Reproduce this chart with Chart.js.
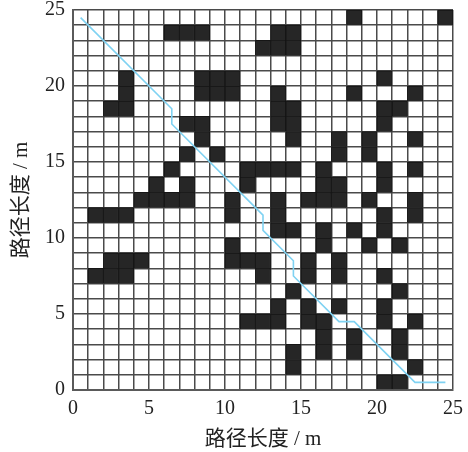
<!DOCTYPE html>
<html>
<head>
<meta charset="utf-8">
<title>路径长度</title>
<script src="https://cdn.jsdelivr.net/npm/chart.js@4"></script>
<style>
  html, body { margin: 0; padding: 0; background: #fff; }
  canvas { display: block; }
</style>
</head>
<body>
<canvas id="pathChart" width="468" height="452"></canvas>
<script>
// grid size and labelled ticks
const gridMax = 25;
const tickLabels = [0, 5, 10, 15, 20, 25];
const axisTitle = "路径长度 / m";

// obstacle cells: blockedCols[i] lists the blocked columns of row i (i = 0 at the bottom)
const blockedCols = [
  [20, 21],
  [14, 22],
  [14, 16, 18, 21],
  [16, 18, 21],
  [11, 12, 13, 15, 16, 20, 22],
  [13, 15, 17, 20],
  [14, 21],
  [1, 2, 3, 12, 15, 17, 20],
  [2, 3, 4, 10, 11, 12, 15, 17],
  [10, 16, 19, 21],
  [13, 14, 16, 18, 20],
  [1, 2, 3, 10, 13, 20, 22],
  [4, 5, 6, 7, 10, 13, 15, 16, 17, 19, 22],
  [5, 7, 11, 16, 17, 20],
  [6, 11, 12, 13, 14, 16, 20, 22],
  [7, 9, 17, 19],
  [8, 14, 17, 19, 22],
  [7, 8, 13, 14, 20],
  [2, 3, 13, 14, 20, 21],
  [3, 8, 9, 10, 13, 18, 22],
  [3, 8, 9, 10, 20],
  [],
  [12, 13, 14],
  [6, 7, 8, 13, 14],
  [18, 24]
];

// planned path vertices
const pathX = [0.5, 6.5, 6.5, 12.5, 12.5, 14.5, 14.5, 17.5, 18.5, 22.5, 24.5];
const pathY = [24.5, 18.5, 17.5, 11.5, 10.5, 8.5, 7.5, 4.5, 4.5, 0.5, 0.5];

const serif = '"Liberation Serif", "Noto Sans CJK SC", serif';

// one floating bar per blocked cell
const cellBars = [];
blockedCols.forEach((cols, row) => {
  cols.forEach(col => cellBars.push({ x: col + 0.5, y: [row, row + 1] }));
});

const pathPoints = pathX.map((x, i) => ({ x, y: pathY[i] }));

function axisOptions(fitSide, fitSize, titlePadding, tickPadding) {
  return {
    type: "linear",
    min: 0,
    max: gridMax,
    offset: false,
    grid: {
      offset: false,
      color: "#4a4a4a",
      lineWidth: 1.5,
      drawTicks: false
    },
    border: { display: true, color: "#5a5a5a", width: 2 },
    ticks: {
      stepSize: 1,
      autoSkip: false,
      maxRotation: 0,
      padding: tickPadding,
      color: "#222",
      font: { family: serif, size: 20 },
      callback: v => (tickLabels.includes(v) ? String(v) : "")
    },
    title: {
      display: true,
      text: axisTitle,
      color: "#222",
      padding: titlePadding,
      font: { family: serif, size: 21 }
    },
    afterFit: scale => {
      scale[fitSide] = fitSize;
      // labels may hang past the plot, keep the area fixed
      scale.paddingTop = scale.paddingBottom = scale.paddingLeft = scale.paddingRight = 0;
    }
  };
}

new Chart(document.getElementById("pathChart"), {
  data: {
    datasets: [
      {
        type: "line",
        data: pathPoints,
        order: 0,
        borderColor: "#7fd2f2",
        borderWidth: 1.6,
        pointRadius: 0,
        tension: 0,
        fill: false
      },
      {
        type: "bar",
        data: cellBars,
        order: 1,
        backgroundColor: "#262626",
        borderColor: "#151515",
        borderWidth: 1,
        barPercentage: 1,
        categoryPercentage: 1
      }
    ]
  },
  options: {
    responsive: false,
    animation: false,
    events: [],
    layout: { padding: { left: 0, top: 10, right: 15, bottom: 0 } },
    plugins: { legend: { display: false }, tooltip: { enabled: false } },
    scales: {
      x: axisOptions("height", 62, { top: 4, bottom: 0 }, 7),
      y: axisOptions("width", 73, { top: 9, bottom: 0 }, 8)
    }
  }
});
</script>
</body>
</html>
